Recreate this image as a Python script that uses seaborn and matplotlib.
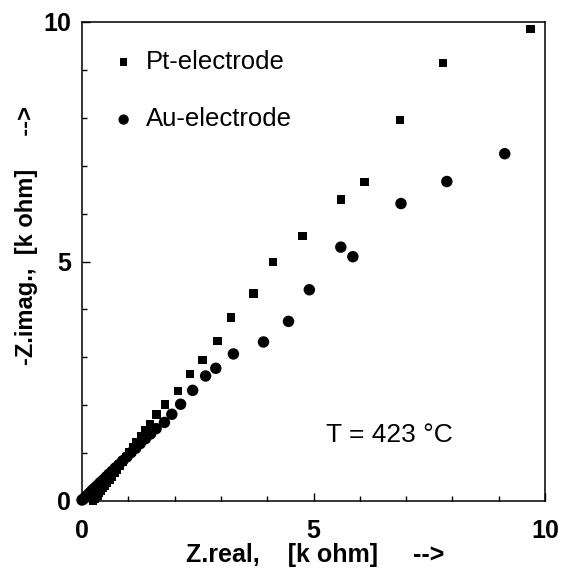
import matplotlib
matplotlib.use("Agg")
import matplotlib.pyplot as plt
from matplotlib.ticker import MultipleLocator
import seaborn as sns
import pandas as pd

# Pt-electrode (squares)
pt_x = [0.24, 0.27, 0.30, 0.33, 0.37, 0.41, 0.45, 0.49, 0.54, 0.59, 0.64, 0.70,
        0.76, 0.82, 0.88, 0.95, 1.02, 1.10, 1.18, 1.27, 1.36, 1.47, 1.61, 1.79,
        2.07, 2.33, 2.60, 2.93, 3.22, 3.71, 4.13, 4.76, 5.59, 6.10, 6.87, 7.80,
        9.69]
pt_y = [0.00, 0.04, 0.08, 0.12, 0.17, 0.22, 0.27, 0.32, 0.38, 0.44, 0.50, 0.58,
        0.66, 0.74, 0.83, 0.92, 1.02, 1.12, 1.23, 1.35, 1.47, 1.60, 1.81, 2.02,
        2.30, 2.65, 2.94, 3.34, 3.83, 4.33, 4.99, 5.53, 6.30, 6.66, 7.95, 9.14,
        9.85]

# Au-electrode (circles)
au_x = [0.00, 0.03, 0.06, 0.09, 0.13, 0.17, 0.21, 0.25, 0.30, 0.35, 0.40, 0.46,
        0.52, 0.58, 0.65, 0.72, 0.80, 0.88, 0.97, 1.06, 1.16, 1.26, 1.37, 1.48,
        1.60, 1.78, 1.94, 2.13, 2.39, 2.67, 2.89, 3.27, 3.92, 4.46, 4.91, 5.59,
        5.85, 6.89, 7.88, 9.13]
au_y = [0.02, 0.04, 0.07, 0.10, 0.13, 0.17, 0.21, 0.25, 0.29, 0.34, 0.39, 0.44,
        0.50, 0.56, 0.62, 0.69, 0.76, 0.84, 0.92, 1.01, 1.10, 1.20, 1.30, 1.40,
        1.51, 1.64, 1.81, 2.02, 2.31, 2.61, 2.77, 3.07, 3.32, 3.75, 4.41, 5.30,
        5.10, 6.21, 6.67, 7.25]

labels = ["Pt-electrode", "Au-electrode"]
x_ticks = [0, 5, 10]
y_ticks = [0, 5, 10]
annotation = "T = 423 °C"
x_label = "Z.real,    [k ohm]     -->"
y_label = "-Z.imag.,  [k ohm]     -->"

sns.set_theme(style="white")
plt.rcParams["font.family"] = ["Liberation Sans", "DejaVu Sans"]
plt.rcParams["text.color"] = "black"
plt.rcParams["axes.labelcolor"] = "black"
plt.rcParams["xtick.color"] = "black"
plt.rcParams["ytick.color"] = "black"

pt = pd.DataFrame({"x": pt_x, "y": pt_y})
au = pd.DataFrame({"x": au_x, "y": au_y})

fig = plt.figure(figsize=(5.67, 5.70), dpi=100)
ax = fig.add_axes([82 / 567, 1 - 501 / 570, (545 - 82) / 567, (501 - 22) / 570])

sns.scatterplot(data=pt, x="x", y="y", marker="s", s=38, color="black",
                edgecolor="none", label=labels[0], ax=ax, clip_on=False, zorder=3)
sns.scatterplot(data=au, x="x", y="y", marker="o", s=68, color="black",
                edgecolor="none", label=labels[1], ax=ax, clip_on=False, zorder=3)

ax.set_xlim(0, 10)
ax.set_ylim(0, 10)
ax.set_xticks(x_ticks)
ax.set_yticks(y_ticks)
ax.xaxis.set_minor_locator(MultipleLocator(1))
ax.yaxis.set_minor_locator(MultipleLocator(1))
ax.tick_params(which="both", direction="in", top=False, right=False,
               bottom=True, left=True, color="black", labelcolor="black")
ax.tick_params(which="major", length=6, width=1.0, labelsize=18)
ax.tick_params(axis="x", which="major", pad=13)
ax.tick_params(axis="y", which="major", pad=8)
ax.tick_params(which="minor", length=3.5, width=1.0)
for lab in ax.get_xticklabels() + ax.get_yticklabels():
    lab.set_fontweight("bold")

for sp in ax.spines.values():
    sp.set_color("black")
    sp.set_linewidth(1.1)

ax.set_xlabel(x_label, fontsize=18, fontweight="bold", color="black")
ax.xaxis.set_label_coords(0.503, -0.087)
ax.set_ylabel(y_label, fontsize=17, fontweight="bold", color="black")
ax.yaxis.set_label_coords(-0.096, 0.555)

ax.text(5.27, 1.38, annotation, fontsize=19, va="center", ha="left",
        color="black")

leg = ax.legend(loc="upper left", bbox_to_anchor=(0.015, 0.99), frameon=False,
                fontsize=18.5, labelspacing=1.3, handletextpad=0.4,
                handlelength=0.9, markerscale=0.9, labelcolor="black")

fig.savefig("out.png", dpi=100)
